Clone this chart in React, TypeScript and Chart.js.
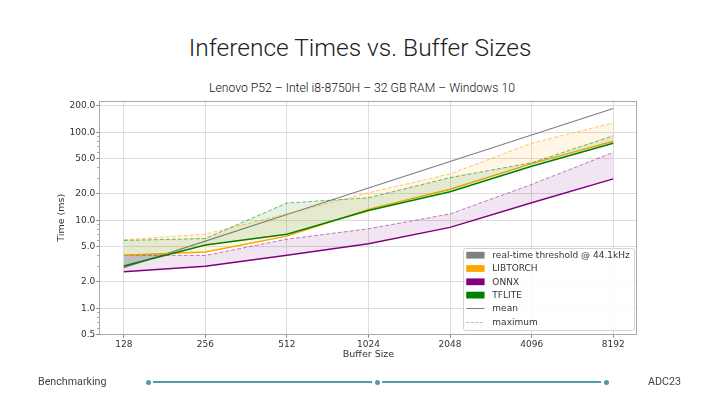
import React, { useEffect, useRef } from "react";
import { Chart, registerables } from "chart.js";

Chart.register(...registerables);

// ---------- data ----------
const bufferSizes = ["128", "256", "512", "1024", "2048", "4096", "8192"];
const yTickValues = [0.5, 1, 2, 5, 10, 20, 50, 100, 200];
const yMinorTickValues = [0.6, 0.7, 0.8, 0.9, 3, 4, 6, 7, 8, 9, 30, 40, 60, 70, 80, 90];

const realTimeThreshold = [2.9, 5.8, 11.61, 23.22, 46.44, 92.88, 185.76];
const libtorchMean = [4.0, 4.35, 6.6, 13.3, 22.5, 44, 79];
const libtorchMax = [6.0, 6.95, 11.8, 20.5, 33.6, 75, 128];
const onnxMean = [2.6, 3.0, 4.0, 5.4, 8.3, 15.8, 29.5];
const onnxMax = [4.0, 3.98, 6.1, 8.0, 11.8, 25.5, 59];
const tfliteMean = [3.02, 5.22, 6.93, 12.9, 21.1, 41, 75];
const tfliteMax = [5.9, 6.2, 15.7, 18, 30.5, 45, 91];

const legendLabels = [
  "real-time threshold @ 44.1kHz",
  "LIBTORCH",
  "ONNX",
  "TFLITE",
  "mean",
  "maximum",
];

// ---------- styles ----------
const GRAY = "#808080";
const ORANGE = "#FFA500";
const PURPLE = "#800080";
const GREEN = "#008000";
const legendSwatches = [
  { kind: "patch", color: GRAY },
  { kind: "patch", color: ORANGE },
  { kind: "patch", color: PURPLE },
  { kind: "patch", color: GREEN },
  { kind: "line", color: GRAY, dash: [] as number[] },
  { kind: "line", color: "rgba(128,128,128,0.55)", dash: [3, 1.5] },
];
const tickFont = { family: "'DejaVu Sans', sans-serif", size: 9 };

const toPoints = (arr: number[]) => arr.map((v, i) => ({ x: i, y: v }));

const decorPlugin = {
  id: "decor",
  afterDraw(chart: any) {
    const { ctx, chartArea: a, scales } = chart;
    const ys = scales.y;
    ctx.save();
    // minor ticks
    ctx.strokeStyle = "#888";
    ctx.lineWidth = 0.8;
    yMinorTickValues.forEach((v) => {
      const py = Math.round(ys.getPixelForValue(v)) + 0.5;
      ctx.beginPath();
      ctx.moveTo(a.left - 2, py);
      ctx.lineTo(a.left, py);
      ctx.stroke();
    });
    // frame
    ctx.strokeStyle = "#aaaaaa";
    ctx.lineWidth = 1;
    ctx.strokeRect(
      Math.round(a.left) + 0.5,
      Math.round(a.top) + 0.5,
      Math.round(a.right - a.left) - 1,
      Math.round(a.bottom - a.top) - 1
    );
    // legend
    ctx.font = "9px 'DejaVu Sans', sans-serif";
    let maxW = 0;
    legendLabels.forEach((t) => (maxW = Math.max(maxW, ctx.measureText(t).width)));
    const rowH = 13.3;
    const boxW = 29.6 + maxW + 3.6;
    const boxH = rowH * legendLabels.length + 2;
    const boxR = a.right - 4.4;
    const boxB = a.bottom - 4.8;
    const boxL = boxR - boxW;
    const boxT = boxB - boxH;
    ctx.fillStyle = "rgba(255,255,255,0.85)";
    ctx.strokeStyle = "#d4d4d4";
    ctx.lineWidth = 1;
    ctx.beginPath();
    (ctx as any).roundRect(Math.round(boxL) + 0.5, Math.round(boxT) + 0.5, Math.round(boxW), Math.round(boxH), 2);
    ctx.fill();
    ctx.stroke();
    legendLabels.forEach((t, i) => {
      const cy = boxT + 7 + i * rowH;
      const sw = legendSwatches[i];
      const sx = boxL + 3.5;
      if (sw.kind === "patch") {
        ctx.fillStyle = sw.color;
        ctx.fillRect(sx, cy - 3.4, 18.3, 6.8);
      } else {
        ctx.strokeStyle = sw.color;
        ctx.lineWidth = 1;
        ctx.setLineDash(sw.dash || []);
        ctx.beginPath();
        ctx.moveTo(sx, Math.round(cy) + 0.5);
        ctx.lineTo(sx + 18.3, Math.round(cy) + 0.5);
        ctx.stroke();
        ctx.setLineDash([]);
      }
      ctx.fillStyle = "#333";
      ctx.textBaseline = "middle";
      ctx.textAlign = "left";
      ctx.fillText(t, boxL + 29.6, cy + 0.5);
    });
    ctx.restore();
  },
};

export default function App() {
  const ref = useRef<HTMLCanvasElement>(null);

  useEffect(() => {
    const meanLine = (data: number[], color: string) => ({
      data: toPoints(data),
      borderColor: color,
      borderWidth: 1.5,
      pointRadius: 0,
      fill: false,
      tension: 0,
    });
    const maxLine = (data: number[], line: string, fillCol: string, target: number) => ({
      data: toPoints(data),
      borderColor: line,
      borderWidth: 1,
      borderDash: [4, 2],
      pointRadius: 0,
      backgroundColor: fillCol,
      fill: { target },
      tension: 0,
    });

    const chart = new Chart(ref.current as HTMLCanvasElement, {
      type: "line",
      data: {
        datasets: [
          { label: "TFLITE mean", ...meanLine(tfliteMean, GREEN) },
          { label: "TFLITE max", ...maxLine(tfliteMax, "rgba(0,128,0,0.55)", "rgba(0,128,0,0.1)", 0) },
          { label: "LIBTORCH mean", ...meanLine(libtorchMean, ORANGE) },
          { label: "LIBTORCH max", ...maxLine(libtorchMax, "rgba(255,165,0,0.6)", "rgba(255,165,0,0.1)", 2) },
          { label: "ONNX mean", ...meanLine(onnxMean, PURPLE) },
          { label: "ONNX max", ...maxLine(onnxMax, "rgba(128,0,128,0.5)", "rgba(128,0,128,0.1)", 4) },
          {
            label: "real-time threshold",
            data: toPoints(realTimeThreshold),
            borderColor: GRAY,
            borderWidth: 1.2,
            pointRadius: 0,
            tension: 0,
            fill: { target: 2, above: "rgba(0,0,0,0)", below: "rgba(128,128,128,0.28)" },
          } as any,
        ],
      },
      options: {
        responsive: false,
        animation: false,
        layout: { padding: { left: 50, right: 82.3, top: 100.7, bottom: 40.2 } },
        plugins: { legend: { display: false }, tooltip: { enabled: false } },
        scales: {
          x: {
            type: "linear",
            min: -0.3,
            max: 6.3,
            bounds: "data",
            afterBuildTicks: (s: any) => {
              s.ticks = bufferSizes.map((_, i) => ({ value: i }));
            },
            afterFit: (s: any) => {
              s.height = 30;
            },
            ticks: {
              autoSkip: false,
              maxRotation: 0,
              padding: 1,
              color: "#333",
              font: tickFont,
              callback: (v: any) => bufferSizes[Math.round(Number(v))] ?? "",
            },
            grid: { color: "#dddddd", tickColor: "#888", tickLength: 3 },
            border: { display: false },
            title: {
              display: true,
              text: "Buffer Size",
              color: "#333",
              font: { family: "'DejaVu Sans', sans-serif", size: 9.5 },
              padding: { top: 0, bottom: 5 },
            },
          },
          y: {
            type: "logarithmic",
            min: 0.5,
            max: 228,
            bounds: "data",
            afterBuildTicks: (s: any) => {
              s.ticks = yTickValues.map((v) => ({ value: v }));
            },
            afterFit: (s: any) => {
              s.width = 49.3;
            },
            ticks: {
              autoSkip: false,
              padding: 1,
              color: "#333",
              font: tickFont,
              callback: (v: any) => Number(v).toFixed(1),
            },
            grid: { color: "#dddddd", tickColor: "#888", tickLength: 3 },
            border: { display: false },
            title: {
              display: true,
              text: "Time (ms)",
              color: "#333",
              font: { family: "'DejaVu Sans', sans-serif", size: 9.5 },
              padding: { top: 6, bottom: 0 },
            },
          },
        },
      } as any,
      plugins: [decorPlugin],
    });
    return () => chart.destroy();
  }, []);

  const teal = "#4f9aab";
  const dot = (x: number) => (
    <div
      style={{
        position: "absolute",
        left: x - 2.5,
        top: 379.5,
        width: 5,
        height: 5,
        borderRadius: "50%",
        background: teal,
      }}
    />
  );

  return (
    <div
      style={{
        position: "fixed",
        left: 0,
        top: 0,
        width: 720,
        height: 405,
        background: "#fff",
        overflow: "hidden",
        fontFamily: "Roboto, 'Open Sans', sans-serif",
      }}
    >
      <div
        style={{
          position: "absolute",
          left: 0,
          top: 33,
          width: 720,
          textAlign: "center",
          fontSize: 24.5,
          fontWeight: 300,
          color: "#222",
          lineHeight: "30px",
        }}
      >
        Inference Times vs. Buffer Sizes
      </div>
      <div
        style={{
          position: "absolute",
          left: 2,
          top: 80,
          width: 720,
          textAlign: "center",
          fontSize: 12.2,
          fontWeight: 300,
          color: "#111",
          lineHeight: "16px",
        }}
      >
        Lenovo P52 – Intel i8-8750H – 32 GB RAM – Windows 10
      </div>
      <canvas
        ref={ref}
        width={720}
        height={405}
        style={{ position: "absolute", left: 0, top: 0, width: 720, height: 405 }}
      />
      <div
        style={{
          position: "absolute",
          left: 38,
          top: 374,
          fontSize: 10.7,
          color: "#444",
          lineHeight: "16px",
        }}
      >
        Benchmarking
      </div>
      <div
        style={{
          position: "absolute",
          left: 153,
          top: 381.2,
          width: 219,
          height: 1.6,
          background: teal,
        }}
      />
      <div
        style={{
          position: "absolute",
          left: 382,
          top: 381.2,
          width: 219,
          height: 1.6,
          background: teal,
        }}
      />
      {dot(148)}
      {dot(377)}
      {dot(606)}
      <div
        style={{
          position: "absolute",
          left: 648,
          top: 374,
          fontSize: 10.7,
          color: "#444",
          lineHeight: "16px",
        }}
      >
        ADC23
      </div>
    </div>
  );
}
